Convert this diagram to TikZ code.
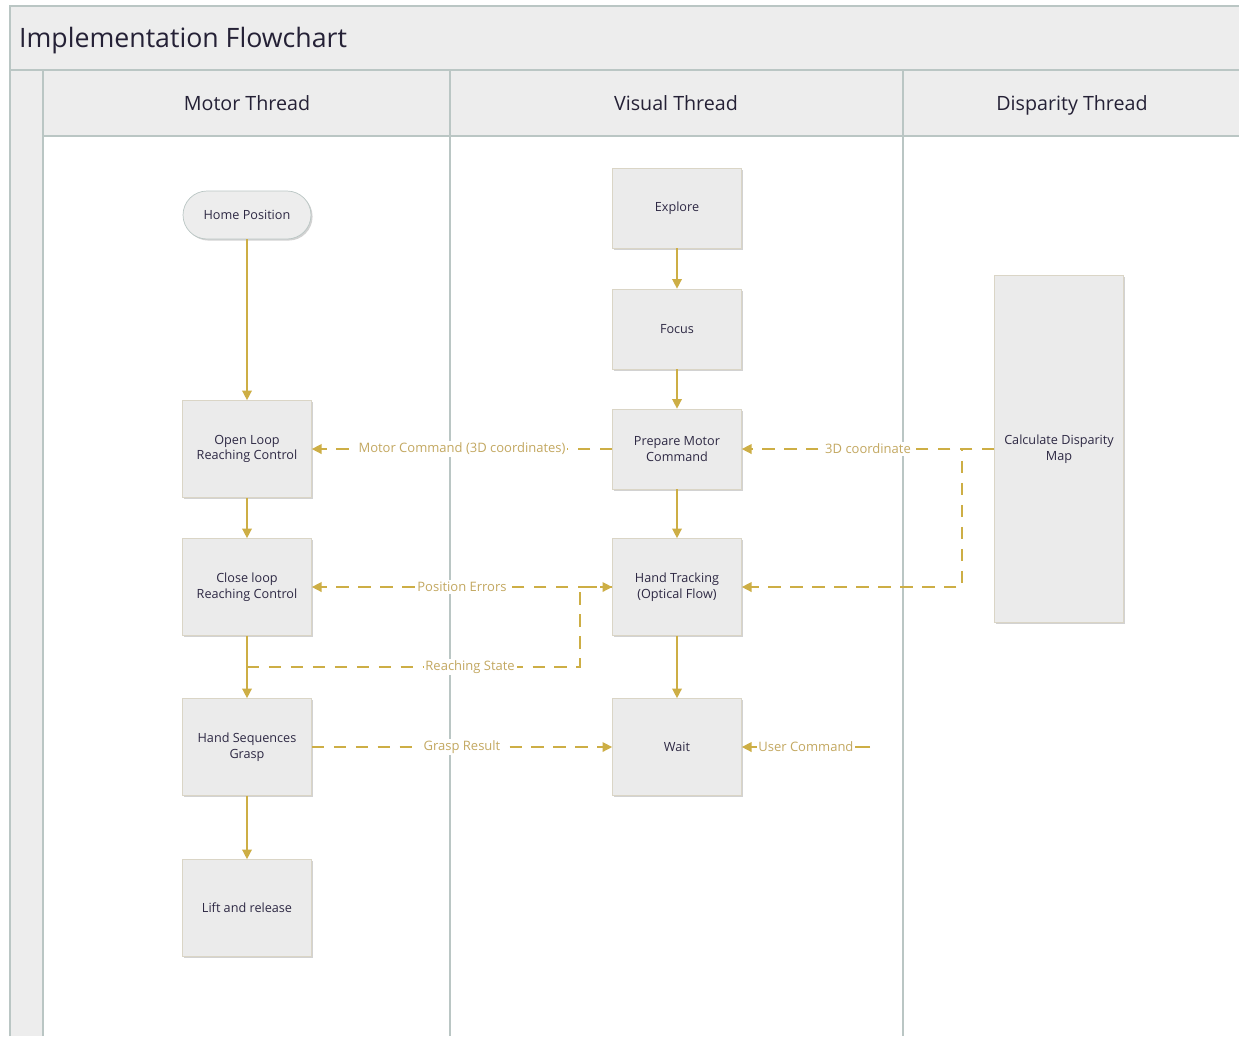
\documentclass[tikz,border=0pt]{standalone}
\usepackage{fontspec}
\setmainfont{Open Sans}
\usepackage{tikz}
\usetikzlibrary{arrows.meta,shadows}
\definecolor{lane}{HTML}{EDEDED}
\definecolor{edge}{HTML}{BAC6C4}
\definecolor{box}{HTML}{EBEBEB}
\definecolor{boxline}{HTML}{DAD5C6}
\definecolor{flow}{HTML}{CDAE45}
\definecolor{note}{HTML}{C3A861}
\definecolor{ink}{HTML}{2E2944}
\tikzset{
  frame/.style={draw=edge, line width=1.4pt},
  head/.style={text=ink!80!black, font=\fontsize{11.2}{13}\selectfont,
    text height=8.5pt, text depth=2.5pt},
  task/.style={draw=boxline, fill=box, text=ink, align=center,
    font=\fontsize{7.2}{9}\selectfont, minimum width=2.58cm, minimum height=1.94cm,
    drop shadow={shadow xshift=0.9pt, shadow yshift=-0.9pt, fill=black!35, opacity=0.5}},
  short/.style={task, minimum height=1.6cm},
  term/.style={task, draw=edge, fill=lane, minimum width=2.56cm, minimum height=0.96cm,
    rounded corners=0.48cm},
  flowline/.style={draw=flow, line width=0.8pt, -{Triangle[length=5.5pt,width=5.5pt]}},
  dashline/.style={flowline, dash pattern=on 7pt off 5.5pt},
  tag/.style={fill=white, text=note, font=\fontsize{7.4}{9}\selectfont, inner sep=1pt}
}

\begin{document}
\begin{tikzpicture}[x=0.02cm, y=-0.02cm]
\useasboundingbox (0,0) rectangle (1239,1036);
% pool
\fill[lane] (10,6) rectangle (1239,136);
\fill[lane] (10,136) rectangle (43,1036);
\fill[white] (43,136) rectangle (1239,1036);
\draw[frame] (10,1036) -- (10,6) -- (1239,6);
\draw[frame] (10,70) -- (1239,70);
\draw[frame] (43,136) -- (1239,136);
\draw[frame] (43,70) -- (43,1036);
\draw[frame] (450,70) -- (450,1036);
\draw[frame] (903,70) -- (903,1036);
\node[anchor=west, text=ink!80!black, font=\fontsize{15.2}{17}\selectfont] (title) at (13,41) {Implementation Flowchart};
\node[head] (motor) at (247,105) {Motor Thread};
\node[head] (visual) at (676,105) {Visual Thread};
\node[head] (disparity) at (1072,105) {Disparity Thread};

% motor thread
\node[term] (home) at (247,215) {Home Position};
\node[task] (open) at (247,449) {Open Loop\\Reaching Control};
\node[task] (close) at (247,587) {Close loop\\Reaching Control};
\node[task] (grasp) at (247,747) {Hand Sequences\\Grasp};
\node[task] (lift) at (247,908) {Lift and release};

% visual thread
\node[short] (explore) at (677,208) {Explore};
\node[short] (focus) at (677,329) {Focus};
\node[short] (prepare) at (677,449) {Prepare Motor\\Command};
\node[task] (track) at (677,587) {Hand Tracking\\(Optical Flow)};
\node[task] (wait) at (677,747) {Wait};

% disparity thread
\node[task, minimum height=6.94cm] (calc) at (1059,449) {Calculate Disparity\\Map};

% solid flow
\draw[flowline] (home) -- (open);
\draw[flowline] (open) -- (close);
\draw[flowline] (close) -- (grasp);
\draw[flowline] (grasp) -- (lift);
\draw[flowline] (explore) -- (focus);
\draw[flowline] (focus) -- (prepare);
\draw[flowline] (prepare) -- (track);
\draw[flowline] (track) -- (wait);

% messages
\coordinate (split) at (247,667);
\coordinate (user) at (870,747);
\draw[dashline] (prepare.west) -- node[tag] {Motor Command (3D coordinates)} (open.east);
\draw[dashline] (calc.west) -- node[tag] {3D coordinate} (prepare.east);
\draw[dashline] (calc.west) -- ++(-32,0) |- (track.east);
\draw[dashline] (track.west) -- node[tag] {Position Errors} (close.east);
\draw[dashline] (split) -- node[tag, pos=0.67] {Reaching State} (580,667) |- (track.west);
\draw[dashline] (grasp.east) -- node[tag] {Grasp Result} (wait.west);
\draw[flowline] (user) -- node[tag] {User Command} (wait.east);
\end{tikzpicture}
\end{document}
